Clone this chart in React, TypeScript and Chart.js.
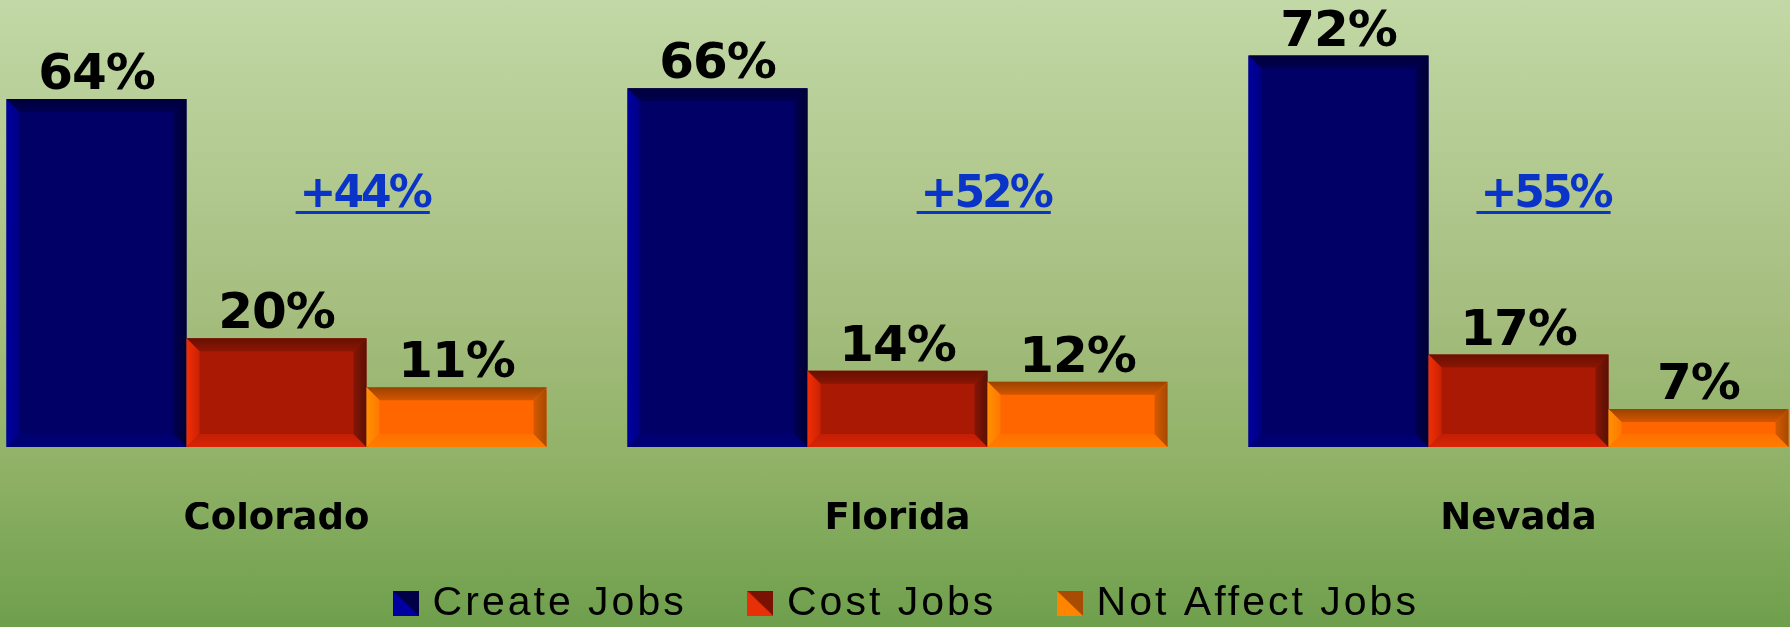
import React, { useEffect, useRef } from 'react';
import { Chart, registerables } from 'chart.js';

Chart.register(...registerables);

// ---------- data ----------
const categories = ['Colorado', 'Florida', 'Nevada'];
const seriesNames = ['Create Jobs', 'Cost Jobs', 'Not Affect Jobs'];
const createJobs = [64, 66, 72];
const costJobs = [20, 14, 17];
const notAffectJobs = [11, 12, 7];
const netGainLabels = ['+44%', '+52%', '+55%'];

// ---------- layout / style ----------
const RIGHT_GUTTER = 24;
const CANVAS_W = 1863 + RIGHT_GUTTER;
const CANVAS_H = 634;
const CANVAS_LEFT = -34;
const Y_MIN = -10.115;
const Y_MAX = 82.207;
const BEVEL = 13;
const GAIN_OFFSETS = [0.49, 0.49, 0.15]; // in bar widths from category centre

const palettes = [
  { main: '#000066', top: '#00003A', left: '#0000A2', right: '#000034', bottom: '#000078', light: '#0000A0', dark: '#000046' },
  { main: '#AA1904', top: '#681002', left: '#F22E04', right: '#5A1006', bottom: '#D82406', light: '#E83008', dark: '#7A1204' },
  { main: '#FF6600', top: '#9A4200', left: '#FF9000', right: '#A44A00', bottom: '#FF7C00', light: '#FF8400', dark: '#A84C04' },
];

function makeSwatch(light: string, dark: string) {
  const c = document.createElement('canvas');
  c.width = 26;
  c.height = 25;
  const g = c.getContext('2d')!;
  g.fillStyle = dark;
  g.fillRect(0, 0, 26, 25);
  g.fillStyle = light;
  g.beginPath();
  g.moveTo(0, 0);
  g.lineTo(26, 25);
  g.lineTo(0, 25);
  g.closePath();
  g.fill();
  return c;
}

function mix(a: string, b: string, t: number) {
  const pa = [1, 3, 5].map((i) => parseInt(a.slice(i, i + 2), 16));
  const pb = [1, 3, 5].map((i) => parseInt(b.slice(i, i + 2), 16));
  const r = pa.map((v, i) => Math.round(v + (pb[i] - v) * t));
  return `rgb(${r[0]},${r[1]},${r[2]})`;
}

function quad(ctx: CanvasRenderingContext2D, pts: number[][], fill: any) {
  ctx.beginPath();
  ctx.moveTo(pts[0][0], pts[0][1]);
  for (let i = 1; i < pts.length; i++) ctx.lineTo(pts[i][0], pts[i][1]);
  ctx.closePath();
  ctx.fillStyle = fill;
  ctx.fill();
}

function grad(ctx: CanvasRenderingContext2D, x0: number, y0: number, x1: number, y1: number, c0: string, c1: string) {
  const g = ctx.createLinearGradient(x0, y0, x1, y1);
  g.addColorStop(0, c0);
  g.addColorStop(1, c1);
  return g;
}

const spacingPlugin = {
  id: 'spacing',
  beforeLayout(chart: any) {
    chart.ctx.letterSpacing = '3px';
  },
  beforeDraw(chart: any) {
    chart.ctx.letterSpacing = '3px';
  },
  beforeDatasetsDraw(chart: any) {
    chart.ctx.letterSpacing = '0px';
  },
};

const decorPlugin = {
  id: 'decor',
  afterDatasetsDraw(chart: any) {
    const ctx: CanvasRenderingContext2D = chart.ctx;
    ctx.save();
    ctx.letterSpacing = '0px';
    // bevels
    chart.data.datasets.forEach((ds: any, di: number) => {
      const meta = chart.getDatasetMeta(di);
      const p = palettes[di];
      meta.data.forEach((bar: any) => {
        const { x, y, base, width } = bar.getProps(['x', 'y', 'base', 'width'], true);
        const x0 = x - width / 2;
        const x1 = x + width / 2;
        const y0 = Math.min(y, base);
        const y1 = Math.max(y, base);
        const b = Math.min(BEVEL, (y1 - y0) / 2, width / 2);
        quad(ctx, [[x0, y0], [x1, y0], [x1 - b, y0 + b], [x0 + b, y0 + b]], grad(ctx, 0, y0, 0, y0 + b, p.top, mix(p.top, p.main, 0.55)));
        quad(ctx, [[x0, y1], [x1, y1], [x1 - b, y1 - b], [x0 + b, y1 - b]], grad(ctx, 0, y1, 0, y1 - b, p.bottom, mix(p.bottom, p.main, 0.5)));
        quad(ctx, [[x0, y0], [x0 + b, y0 + b], [x0 + b, y1 - b], [x0, y1]], grad(ctx, x0, 0, x0 + b, 0, p.left, mix(p.left, p.main, 0.55)));
        quad(ctx, [[x1, y0], [x1 - b, y0 + b], [x1 - b, y1 - b], [x1, y1]], grad(ctx, x1, 0, x1 - b, 0, p.right, mix(p.right, p.main, 0.55)));
      });
    });
    // value labels
    ctx.font = 'bold 50px "DejaVu Sans"';
    ctx.letterSpacing = '-1px';
    ctx.fillStyle = '#000000';
    ctx.textAlign = 'center';
    ctx.textBaseline = 'alphabetic';
    chart.data.datasets.forEach((ds: any, di: number) => {
      const meta = chart.getDatasetMeta(di);
      meta.data.forEach((bar: any, i: number) => {
        const { x, y } = bar.getProps(['x', 'y'], true);
        ctx.fillText(`${ds.data[i]}%`, x, y - 10);
      });
    });
    // net gain annotations
    const xScale = chart.scales.x;
    const barW = chart.getDatasetMeta(0).data[0].width;
    ctx.font = 'bold 44px "DejaVu Sans"';
    ctx.letterSpacing = '-3px';
    ctx.fillStyle = '#0A34C8';
    netGainLabels.forEach((txt, i) => {
      const cx = xScale.getPixelForValue(i) + GAIN_OFFSETS[i] * barW;
      ctx.fillText(txt, cx, 207);
      const w = ctx.measureText(txt).width;
      ctx.fillRect(cx - w / 2 - 4, 211, w + 4, 3);
    });
    ctx.restore();
  },
};

export default function App() {
  const ref = useRef<HTMLCanvasElement>(null);

  useEffect(() => {
    const swatches = palettes.map((p) => makeSwatch(p.light, p.dark));
    const chart = new Chart(ref.current!, {
      type: 'bar',
      data: {
        labels: categories,
        datasets: [createJobs, costJobs, notAffectJobs].map((d, i) => ({
          label: seriesNames[i],
          data: d,
          backgroundColor: palettes[i].main,
          borderWidth: 0,
          categoryPercentage: 0.8696,
          barPercentage: 1.0,
        })),
      },
      options: {
        responsive: false,
        animation: false,
        events: [],
        layout: { padding: 0 },
        scales: {
          x: {
            offset: true,
            grid: { display: false, drawTicks: false, tickLength: 0 },
            border: { display: false },
            ticks: {
              color: '#000000',
              font: { family: 'DejaVu Sans', weight: 'bold', size: 37, lineHeight: '34px' },
              padding: 0,
              z: 1,
              autoSkip: false,
              maxRotation: 0,
            },
          },
          y: {
            display: true,
            position: 'right',
            min: Y_MIN,
            max: Y_MAX,
            ticks: { display: false },
            grid: { display: false, drawTicks: false },
            border: { display: false },
            afterFit: (scale: any) => {
              scale.width = RIGHT_GUTTER;
            },
          },
        },
        plugins: {
          tooltip: { enabled: false },
          legend: {
            position: 'bottom',
            labels: {
              usePointStyle: true,
              pointStyleWidth: 12,
              boxHeight: 25,
              padding: 47,
              color: '#000000',
              font: { family: 'Liberation Sans', size: 41 },
              generateLabels: (c: any) => {
                const items = (Chart.defaults.plugins.legend.labels.generateLabels as any)(c);
                return items.map((it: any, i: number) => ({
                  ...it,
                  text: i < items.length - 1 ? it.text + ' \u200A' : it.text,
                  pointStyle: swatches[i],
                }));
              },
            },
          },
        },
      },
      plugins: [spacingPlugin, decorPlugin],
    });
    return () => chart.destroy();
  }, []);

  return (
    <div
      style={{
        position: 'fixed',
        left: 0,
        top: 0,
        width: '100vw',
        height: '100vh',
        overflow: 'hidden',
        background: 'linear-gradient(to bottom, #C2D8A6 0%, #A5BD7E 50%, #8FB166 75%, #6E9F4C 100%)',
      }}
    >
      <canvas
        ref={ref}
        width={CANVAS_W}
        height={CANVAS_H}
        style={{ position: 'absolute', left: CANVAS_LEFT, top: 0, width: CANVAS_W, height: CANVAS_H }}
      />
    </div>
  );
}
